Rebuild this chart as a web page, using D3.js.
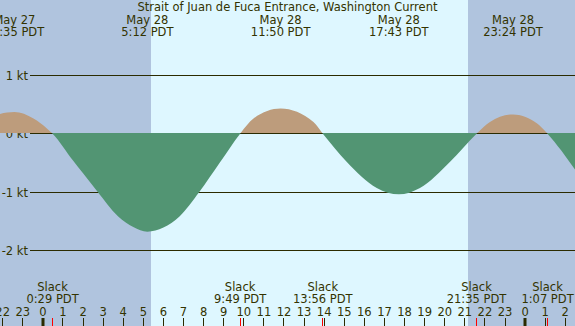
<!DOCTYPE html>
<html><head><meta charset="utf-8">
<script src="https://cdn.jsdelivr.net/npm/d3@7"></script>
<style>
html,body{margin:0;padding:0;background:#fff;}
svg{display:block;}
text{font-family:"DejaVu Sans",sans-serif;font-size:11.5px;fill:#333300;}
</style></head><body>
<svg id="c" width="575" height="326"></svg>
<script>
// ---- data ----
const title = "Strait of Juan de Fuca Entrance, Washington Current";
// current speed curve knots (kt), positive = flood, negative = ebb
const curveTimes = ["05-27 19:45","05-27 22:35","05-27 23:32","05-28 00:12","05-28 00:29",
  "05-28 01:30","05-28 02:00","05-28 02:41","05-28 03:45","05-28 04:30","05-28 05:12","05-28 06:00","05-28 06:48","05-28 07:47","05-28 08:48",
  "05-28 09:49","05-28 10:29","05-28 11:50","05-28 13:28","05-28 13:56",
  "05-28 15:07","05-28 16:37","05-28 17:43","05-28 18:46","05-28 20:16","05-28 21:35",
  "05-28 22:15","05-28 23:24","05-29 00:35","05-29 01:07","05-29 01:48","05-29 02:30","05-29 02:45"];
const curveValues = [0,0.37,0.26,0.09,0,
  -0.46,-0.68,-0.98,-1.42,-1.60,-1.68,-1.61,-1.42,-1.0,-0.5,
  0,0.26,0.43,0.20,0,
  -0.48,-0.93,-1.04,-0.93,-0.48,0,
  0.20,0.33,0.18,0,-0.29,-0.62,-0.72];
// max / min events (top labels)
const extremeTimes = ["05-27 22:35","05-28 05:12","05-28 11:50","05-28 17:43","05-28 23:24"];
// slack events (bottom labels, red ticks)
const slackTimes = ["05-28 00:29","05-28 09:49","05-28 13:56","05-28 21:35","05-29 01:07"];
// sunrise / sunset
const sunrise = "05-28 05:23";
const sunset = "05-28 21:10";
// y ticks
const ktTicks = [1,0,-1,-2];

// ---- helpers ----
function parseT(s){
  const [md, hm] = s.split(" ");
  const [mo, d] = md.split("-").map(Number);
  const [h, m] = hm.split(":").map(Number);
  return new Date(Date.UTC(2024, mo-1, d, h, m));
}
const W = 575, H = 326;
const svg = d3.select("#c");
const x = d3.scaleUtc()
  .domain([new Date(Date.UTC(2024,4,27,21,52)), new Date(Date.UTC(2024,4,29,2,29))])
  .range([0, W]);
const y = d3.scaleLinear().domain([1,-2]).range([75.37, 250.37]);
const crisp = v => Math.floor(v) + 0.5;

const nightCol = "#b0c4de", dayCol = "#def7ff";
const floodCol = "#bd9c7c", ebbCol = "#529573", lineCol = "#2b2b00";

// background
svg.append("rect").attr("x",0).attr("y",0).attr("width",W).attr("height",H).attr("fill",nightCol);
const sr = x(parseT(sunrise)), ss = x(parseT(sunset));
svg.append("rect").attr("x",Math.round(sr)).attr("y",0).attr("width",Math.round(ss)-Math.round(sr)).attr("height",H).attr("fill",dayCol);

// gridlines
const gx0 = 30;
ktTicks.forEach(k => {
  const yy = crisp(y(k));
  svg.append("line").attr("x1",gx0).attr("x2",W).attr("y1",yy).attr("y2",yy)
    .attr("stroke",lineCol).attr("stroke-width",1);
  svg.append("text").attr("x",28).attr("y",yy+4).attr("text-anchor","end").text(k + " kt");
});

// tide curve
const pts = curveTimes.map((t,i)=>({t:parseT(t), v:curveValues[i]}));
const zeroY = Math.floor(y(0));
const defs = svg.append("defs");
defs.append("clipPath").attr("id","above").append("rect").attr("x",0).attr("y",0).attr("width",W).attr("height",zeroY);
defs.append("clipPath").attr("id","below").append("rect").attr("x",0).attr("y",zeroY).attr("width",W).attr("height",H-zeroY);
const area = d3.area().x(d=>x(d.t)).y0(zeroY).y1(d=>y(d.v)).curve(d3.curveMonotoneX);
svg.append("path").datum(pts).attr("d",area).attr("fill",floodCol).attr("clip-path","url(#above)");
svg.append("path").datum(pts).attr("d",area).attr("fill",ebbCol).attr("clip-path","url(#below)");

// title
svg.append("text").attr("x",W/2).attr("y",11).attr("text-anchor","middle").text(title);

const fDay = d3.utcFormat("%b %-d"), fTime = d3.utcFormat("%-H:%M PDT");
// extreme labels
extremeTimes.forEach(s => {
  const t = parseT(s), xx = x(t);
  svg.append("text").attr("x",xx).attr("y",24).attr("text-anchor","middle").text(fDay(t));
  svg.append("text").attr("x",xx).attr("y",36).attr("text-anchor","middle").text(fTime(t));
});
// slack labels
slackTimes.forEach(s => {
  const t = parseT(s), xx = x(t);
  svg.append("text").attr("x",xx).attr("y",291).attr("text-anchor","middle").text("Slack");
  svg.append("text").attr("x",xx).attr("y",303).attr("text-anchor","middle").text(fTime(t));
});

// hour axis
const hours = d3.utcHour.range(d3.utcHour.ceil(x.domain()[0]), x.domain()[1]);
hours.forEach(h => {
  const xx = x(h);
  const hr = h.getUTCHours();
  svg.append("text").attr("x",xx).attr("y",315.5).attr("text-anchor","middle").text(hr);
  if (hr === 0) {
    svg.append("rect").attr("x",Math.round(xx)-1.5).attr("y",318).attr("width",3).attr("height",8).attr("fill",lineCol);
  } else {
    svg.append("line").attr("x1",crisp(xx)).attr("x2",crisp(xx)).attr("y1",318).attr("y2",H).attr("stroke",lineCol);
  }
});
slackTimes.forEach(s => {
  const xx = crisp(x(parseT(s)));
  svg.append("line").attr("x1",xx).attr("x2",xx).attr("y1",318).attr("y2",H).attr("stroke","#ff0000");
});
</script>
</body></html>
